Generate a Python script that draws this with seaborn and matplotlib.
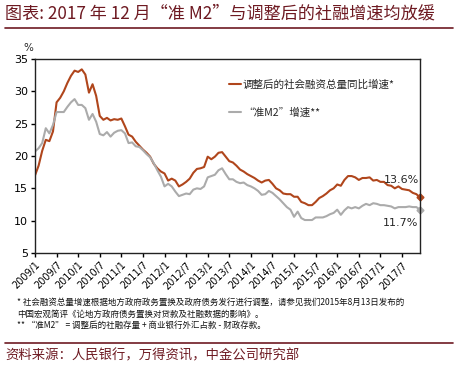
import matplotlib
matplotlib.use("Agg")
import matplotlib.pyplot as plt
import seaborn as sns
import pandas as pd
import numpy as np

months = [f"{y}/{m}" for y in range(2009, 2018) for m in range(1, 13)]

tsf_adjusted = [17.0, 18.5, 20.8, 22.5, 22.3, 23.8, 28.3, 29.0, 30.0, 31.3, 32.4, 33.2,
                33.0, 33.4, 32.6, 29.8, 31.1, 29.3, 26.2, 25.6, 25.9, 25.5, 25.7, 25.6,
                25.8, 24.6, 23.3, 23.0, 22.2, 21.6, 21.0, 20.5, 19.9, 18.8, 18.1, 17.6,
                17.3, 16.2, 16.5, 16.2, 15.3, 15.6, 16.0, 16.5, 17.4, 18.0, 18.1, 18.3,
                19.9, 19.5, 19.9, 20.5, 20.6, 19.9, 19.2, 19.0, 18.5, 17.9, 17.6, 17.2,
                16.9, 16.6, 16.2, 15.9, 16.2, 16.3, 15.7, 15.0, 14.7, 14.2, 14.1, 14.1,
                13.7, 13.7, 12.9, 12.7, 12.4, 12.4, 12.9, 13.5, 13.8, 14.2, 14.7, 15.0,
                15.6, 15.4, 16.3, 16.9, 16.9, 16.7, 16.3, 16.6, 16.6, 16.7, 16.2, 16.3,
                16.0, 16.0, 15.5, 15.4, 15.0, 15.3, 14.9, 14.8, 14.7, 14.3, 14.1, 13.6]

quasi_m2 = [20.7, 21.2, 22.0, 24.3, 23.5, 24.8, 26.8, 26.8, 26.8, 27.6, 28.3, 28.8,
            27.9, 27.9, 27.4, 25.6, 26.5, 25.3, 23.4, 23.2, 23.7, 23.0, 23.6, 23.9,
            24.0, 23.5, 22.0, 22.1, 21.5, 21.4, 20.9, 20.3, 19.8, 18.9, 17.8, 16.8,
            15.3, 15.7, 15.3, 14.5, 13.8, 14.0, 14.2, 14.1, 14.8, 15.0, 14.9, 15.3,
            16.7, 16.9, 17.1, 17.8, 18.1, 17.2, 16.4, 16.4, 16.0, 15.8, 15.9, 15.5,
            15.3, 15.0, 14.6, 14.0, 14.1, 14.6, 14.3, 13.8, 13.3, 12.7, 12.1, 11.7,
            10.6, 11.4, 10.4, 10.1, 10.1, 10.1, 10.5, 10.5, 10.5, 10.7, 11.0, 11.2,
            11.7, 10.9, 11.6, 12.1, 11.9, 12.1, 11.9, 12.3, 12.6, 12.4, 12.7, 12.6,
            12.4, 12.4, 12.3, 12.2, 11.9, 12.1, 12.1, 12.1, 12.2, 12.1, 12.1, 11.7]

series_names = ["调整后的社会融资总量同比增速*", "“准M2”增速**"]
tick_labels = months[::6]
yticks = [5, 10, 15, 20, 25, 30, 35]

RED = "#b0461c"
GRAY = "#ababab"
MAROON = "#6e1a22"

n = len(months)
df = pd.DataFrame({
    "idx": list(range(n)) * 2,
    "value": tsf_adjusted + quasi_m2,
    "series": [series_names[0]] * n + [series_names[1]] * n,
})

sns.set_style("ticks")
plt.rcParams['font.family'] = ['Noto Sans CJK SC', 'DejaVu Sans']

fig = plt.figure(figsize=(4.58, 3.67), dpi=100)
ax = fig.add_axes([0.0764, 0.3106, 0.8406, 0.5286])

sns.lineplot(data=df, x="idx", y="value", hue="series",
             palette={series_names[0]: RED, series_names[1]: GRAY},
             linewidth=1.5, ax=ax, legend=False)

# end markers
ax.plot([n - 1], [tsf_adjusted[-1]], marker="D", ms=3.5, color=RED, clip_on=False)
ax.plot([n - 1], [quasi_m2[-1]], marker="D", ms=3.5, color=GRAY, clip_on=False)

ax.set_xlim(0, n - 1)
ax.set_ylim(5, 35)
ax.set_yticks(yticks)
ax.set_yticklabels([str(v) for v in yticks], fontsize=8, family="DejaVu Sans")
ax.set_xticks(list(range(0, n, 6)))
ax.set_xticklabels(tick_labels, rotation=45, ha="right", rotation_mode="anchor",
                   fontsize=7, family="DejaVu Sans")
ax.tick_params(axis="both", direction="out", length=3, width=1, colors="black", pad=2)
ax.set_xlabel("")
ax.set_ylabel("")
for s in ax.spines.values():
    s.set_visible(True)
    s.set_color("#222222")
    s.set_linewidth(1.0)

fig.text(0.062, 0.868, "%", fontsize=7.5, ha="center", va="center", family="DejaVu Sans")

# legend
ax.plot([0.505, 0.535], [0.87, 0.87], transform=ax.transAxes, color=RED, lw=1.5)
ax.text(0.54, 0.87, series_names[0], transform=ax.transAxes, fontsize=7.6, va="center")
ax.plot([0.505, 0.535], [0.725, 0.725], transform=ax.transAxes, color=GRAY, lw=1.5)
ax.text(0.54, 0.725, series_names[1], transform=ax.transAxes, fontsize=7.6, va="center")

# annotations
ax.annotate(f"{tsf_adjusted[-1]:.1f}%", xy=(n - 1, tsf_adjusted[-1]), xytext=(-1, 9),
            textcoords="offset points", ha="right", va="bottom", fontsize=8,
            family="DejaVu Sans")
ax.annotate(f"{quasi_m2[-1]:.1f}%", xy=(n - 1, quasi_m2[-1]), xytext=(-1, -6),
            textcoords="offset points", ha="right", va="top", fontsize=8,
            family="DejaVu Sans")

# title
fig.text(0.012, 0.962, "图表: 2017 年 12 月“准 M2”与调整后的社融增速均放缓",
         fontsize=12.3, color=MAROON, style="italic", va="center")
fig.add_artist(plt.Line2D([0.01, 0.99], [0.925, 0.925], color=MAROON, lw=1.2,
                          transform=fig.transFigure))

# footnotes
notes = [
    "* 社会融资总量增速根据地方政府政务置换及政府债务发行进行调整，请参见我们2015年8月13日发布的",
    "中国宏观简评《论地方政府债务置换对贷款及社融数据的影响》。",
    "** “准M2” = 调整后的社融存量 + 商业银行外汇占款 - 财政存款。",
]
for i, t in enumerate(notes):
    fig.text(0.037, 0.176 - i * 0.032, t, fontsize=6.1, va="center", color="#111111")

fig.add_artist(plt.Line2D([0.01, 0.99], [0.066, 0.066], color=MAROON, lw=1.2,
                          transform=fig.transFigure))
fig.text(0.012, 0.032, "资料来源：人民银行，万得资讯，中金公司研究部", fontsize=9.6,
         color=MAROON, style="italic", va="center")

fig.savefig("out.png", dpi=100)
